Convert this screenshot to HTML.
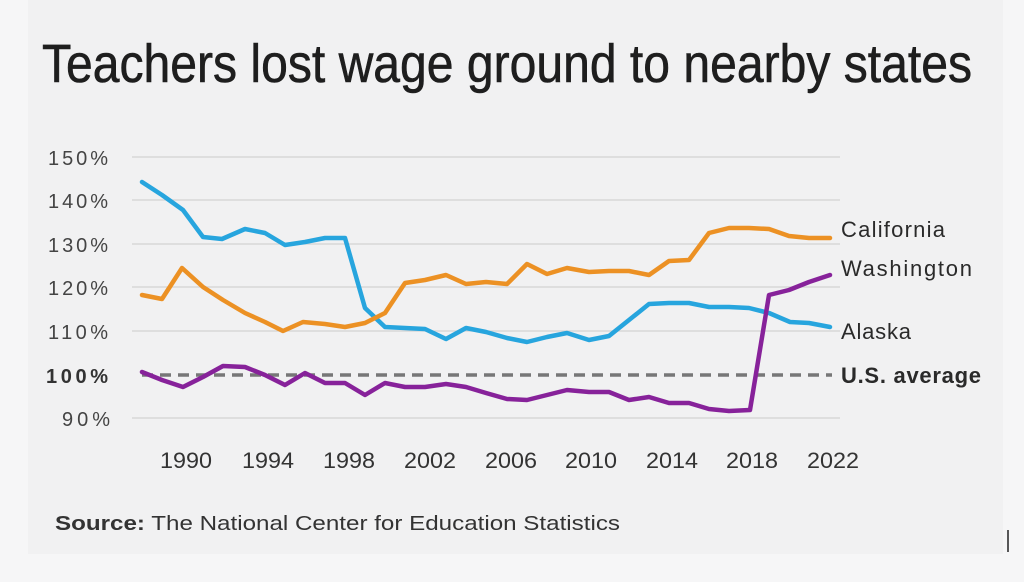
<!DOCTYPE html>
<html><head><meta charset="utf-8"><style>
html,body{margin:0;padding:0;background:#f6f6f7;}
svg{display:block}
</style></head><body>
<svg width="1024" height="582" viewBox="0 0 1024 582" xmlns="http://www.w3.org/2000/svg" font-family="Liberation Sans, DejaVu Sans, sans-serif">
<rect x="0" y="0" width="1024" height="582" fill="#f6f6f7"/>
<rect x="28" y="0" width="975" height="554" fill="#f1f1f2"/>
<text x="42" y="82" font-size="54" fill="#1e1e1e" textLength="930" lengthAdjust="spacingAndGlyphs" stroke="#1e1e1e" stroke-width="0.6">Teachers lost wage ground to nearby states</text>
<g stroke="#d2d2d2" stroke-width="1.3">
<line x1="132" x2="840" y1="157" y2="157"/><line x1="132" x2="840" y1="200" y2="200"/>
<line x1="132" x2="840" y1="244" y2="244"/><line x1="132" x2="840" y1="287" y2="287"/>
<line x1="132" x2="840" y1="331" y2="331"/><line x1="132" x2="840" y1="418" y2="418"/>
</g>
<g font-size="20" fill="#444" text-anchor="end" lengthAdjust="spacingAndGlyphs">
<text x="108" y="165" textLength="60">150%</text><text x="108" y="208" textLength="60">140%</text><text x="108" y="252" textLength="60">130%</text>
<text x="108" y="295" textLength="60">120%</text><text x="108" y="339" textLength="60">110%</text>
<text x="108" y="383" textLength="62" font-weight="bold" fill="#333">100%</text><text x="110" y="426" textLength="48">90%</text>
</g>
<g font-size="22" fill="#333" text-anchor="middle">
<text x="186" y="468" textLength="52" lengthAdjust="spacingAndGlyphs">1990</text>
<text x="268" y="468" textLength="52" lengthAdjust="spacingAndGlyphs">1994</text>
<text x="349" y="468" textLength="52" lengthAdjust="spacingAndGlyphs">1998</text>
<text x="430" y="468" textLength="52" lengthAdjust="spacingAndGlyphs">2002</text>
<text x="511" y="468" textLength="52" lengthAdjust="spacingAndGlyphs">2006</text>
<text x="591" y="468" textLength="52" lengthAdjust="spacingAndGlyphs">2010</text>
<text x="672" y="468" textLength="52" lengthAdjust="spacingAndGlyphs">2014</text>
<text x="752" y="468" textLength="52" lengthAdjust="spacingAndGlyphs">2018</text>
<text x="833" y="468" textLength="52" lengthAdjust="spacingAndGlyphs">2022</text>
</g>
<line x1="142" x2="832" y1="375" y2="375" stroke="#777" stroke-width="3.5" stroke-dasharray="11,7"/>
<g fill="none" stroke-width="4.5" stroke-linejoin="round" stroke-linecap="round">
<polyline stroke="#27a5de" points="142,182 162,195 183,210 203,237 222,239 245,229 265,233 285,245 305,242 325,238 345,238 365,308 385,327 405,328 425,329 446,339 466,328 486,332 507,338 527,342 547,337 567,333 589,340 609,336 629,320 649,304 669,303 689,303 709,307 729,307 749,308 769,313 790,322 809,323 830,327"/>
<polyline stroke="#ec9124" points="142,295 162,299 182,268 203,287 223,300 245,313 265,322 283,331 303,322 325,324 345,327 365,323 385,313 405,283 425,280 446,275 466,284 486,282 507,284 527,264 547,274 567,268 589,272 609,271 629,271 649,275 669,261 689,260 709,233 729,228 749,228 769,229 789,236 809,238 830,238"/>
<polyline stroke="#87229a" points="142,372 162,380 183,387 203,377 223,366 245,367 265,375 285,385 305,373 325,383 345,383 365,395 385,383 405,387 425,387 446,384 466,387 486,393 507,399 527,400 547,395 567,390 589,392 609,392 629,400 649,397 669,403 689,403 709,409 729,411 750,410 769,295 789,290 809,282 830,275"/>
</g>
<g font-size="22" fill="#2a2a2a" lengthAdjust="spacingAndGlyphs">
<text x="841" y="237" textLength="104">California</text>
<text x="841" y="276" textLength="131">Washington</text>
<text x="841" y="339" textLength="70">Alaska</text>
<text x="841" y="383" textLength="140" font-weight="bold">U.S. average</text>
</g>
<text x="55" y="530" font-size="20" fill="#333" textLength="565" lengthAdjust="spacingAndGlyphs"><tspan font-weight="bold">Source:</tspan> The National Center for Education Statistics</text>
<line x1="1008" y1="530" x2="1008" y2="552" stroke="#222" stroke-width="1.5"/>
</svg>
</body></html>
